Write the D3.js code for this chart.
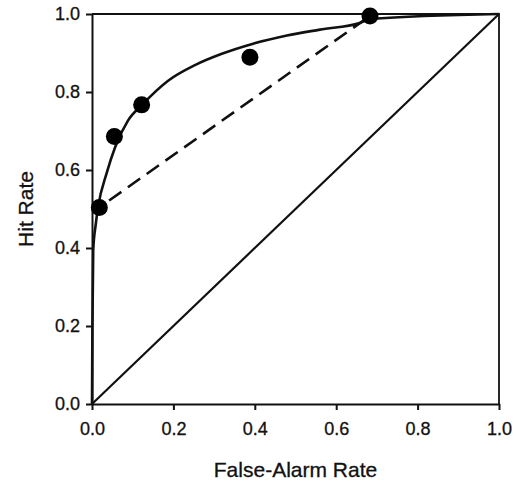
<!DOCTYPE html>
<html>
<head>
<meta charset="utf-8">
<script src="https://cdn.jsdelivr.net/npm/d3@7"></script>
<style>
  body { margin: 0; background: #fff; }
  svg { display: block; }
  text { font-family: "Liberation Sans", Arial, sans-serif; fill: #111; stroke: #111; stroke-width: 0.3px; }
  .axis path, .axis line { stroke: #111; stroke-width: 2; }
</style>
</head>
<body>
<script>
// observed hit / false-alarm pairs
var falseAlarm = [0.018, 0.055, 0.122, 0.388, 0.683];
var hitRate    = [0.504, 0.686, 0.767, 0.889, 0.995];

// fitted ROC curve
var curveFA  = [0, 0.001, 0.003, 0.009, 0.015, 0.036, 0.057, 0.088, 0.123, 0.187, 0.253, 0.319, 0.396, 0.479, 0.560, 0.658, 0.683, 1];
var curveHit = [0, 0.197, 0.395, 0.459, 0.505, 0.592, 0.659, 0.726, 0.767, 0.829, 0.869, 0.898, 0.924, 0.945, 0.960, 0.977, 0.987, 1];

var tickValues = [0, 0.2, 0.4, 0.6, 0.8, 1.0];

var margin = {top: 14, right: 19, bottom: 76, left: 92},
    width = 407,
    height = 390;

var x = d3.scaleLinear().domain([0, 1]).range([0, width]);
var y = d3.scaleLinear().domain([0, 1]).range([height, 0]);

var svg = d3.select("body").append("svg")
    .attr("width", 518)
    .attr("height", 480);

var g = svg.append("g")
    .attr("transform", "translate(" + margin.left + "," + margin.top + ")");

// frame top + right
g.append("path")
    .attr("d", "M0,0H" + width + "V" + height)
    .attr("fill", "none")
    .attr("stroke", "#111")
    .attr("stroke-width", 1.8);

// chance diagonal
g.append("line")
    .attr("x1", x(0)).attr("y1", y(0))
    .attr("x2", x(1)).attr("y2", y(1))
    .attr("stroke", "#111")
    .attr("stroke-width", 2.2);

// fitted curve
var line = d3.line()
    .x(function(d) { return x(d[0]); })
    .y(function(d) { return y(d[1]); })
    .curve(d3.curveMonotoneX);

g.append("path")
    .datum(curveFA.map(function(d, i) { return [d, curveHit[i]]; }))
    .attr("d", line)
    .attr("fill", "none")
    .attr("stroke", "#111")
    .attr("stroke-width", 2.6);

// dashed line between first and last points
var n = falseAlarm.length - 1;
g.append("line")
    .attr("x1", x(falseAlarm[0])).attr("y1", y(hitRate[0]))
    .attr("x2", x(falseAlarm[n])).attr("y2", y(hitRate[n]))
    .attr("stroke", "#111")
    .attr("stroke-width", 2.6)
    .attr("stroke-dasharray", "15,8")
    .attr("stroke-dashoffset", -12);

// axes
var xAxis = g.append("g")
    .attr("class", "axis")
    .attr("transform", "translate(0," + height + ")")
    .call(d3.axisBottom(x).tickValues(tickValues).tickFormat(d3.format(".1f"))
      .tickSize(6).tickSizeOuter(0).tickPadding(12));
xAxis.selectAll("text").attr("font-size", "18px").attr("fill", "#111");

var yAxis = g.append("g")
    .attr("class", "axis")
    .call(d3.axisLeft(y).tickValues(tickValues).tickFormat(d3.format(".1f"))
      .tickSize(6).tickSizeOuter(0).tickPadding(6));
yAxis.selectAll("text").attr("font-size", "18px").attr("fill", "#111");

// points
g.selectAll("circle.dot")
    .data(falseAlarm)
    .enter().append("circle")
    .attr("class", "dot")
    .attr("cx", function(d) { return x(d); })
    .attr("cy", function(d, i) { return y(hitRate[i]); })
    .attr("r", 8.5)
    .attr("fill", "#000");

// axis titles
svg.append("text")
    .attr("x", margin.left + width / 2)
    .attr("y", 477)
    .attr("text-anchor", "middle")
    .attr("font-size", "21px")
    .text("False-Alarm Rate");

svg.append("text")
    .attr("transform", "translate(33," + (margin.top + height / 2) + ") rotate(-90)")
    .attr("text-anchor", "middle")
    .attr("font-size", "21px")
    .text("Hit Rate");
</script>
</body>
</html>
